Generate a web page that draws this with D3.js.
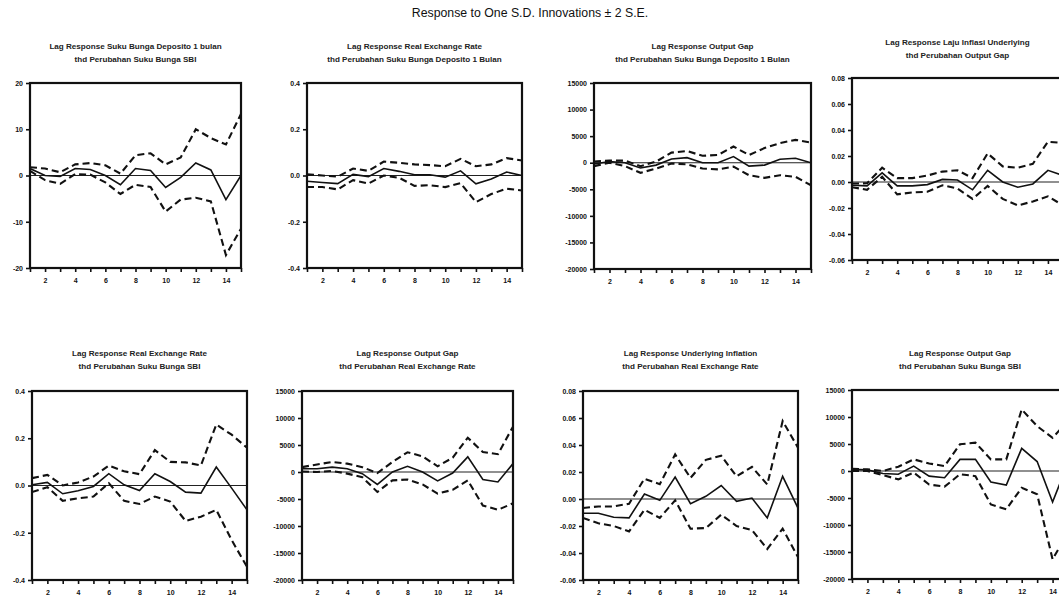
<!DOCTYPE html>
<html><head><meta charset="utf-8">
<script src="https://cdn.jsdelivr.net/npm/d3@7"></script>
<style>body{margin:0;background:#fff} svg{display:block}</style>
</head><body>
<svg id="c" width="1059" height="602"></svg>
<script>
// ---------------- DATA ----------------
const mainTitle = "Response to One S.D. Innovations \u00B1 2 S.E.";
const lags = [1,2,3,4,5,6,7,8,9,10,11,12,13,14,15];
const xTickLabels = [2,4,6,8,10,12,14];

const titles = [
  ["Lag Response Suku Bunga Deposito 1 bulan", "thd Perubahan Suku Bunga SBI"],
  ["Lag Response Real Exchange Rate", "thd Perubahan Suku Bunga Deposito 1 Bulan"],
  ["Lag Response Output Gap", "thd Perubahan Suku Bunga Deposito 1 Bulan"],
  ["Lag Response Laju Inflasi Underlying", "thd Perubahan Output Gap"],
  ["Lag Response Real Exchange Rate", "thd Perubahan Suku Bunga SBI"],
  ["Lag Response Output Gap", "thd Perubahan Real Exchange Rate"],
  ["Lag Response Underlying Inflation", "thd Perubahan Real Exchange Rate"],
  ["Lag Response Output Gap", "thd Perubahan Suku Bunga SBI"]
];

const yTicksA = [-20,-10,0,10,20];
const yLabelsA = ["-20","-10","0","10","20"];
const yTicksB = [-0.4,-0.2,0,0.2,0.4];
const yLabelsB = ["-0.4","-0.2","0.0","0.2","0.4"];
const yTicksC = [-20000,-15000,-10000,-5000,0,5000,10000,15000];
const yLabelsC = ["-20000","-15000","-10000","-5000","0","5000","10000","15000"];
const yTicksD = [-0.06,-0.04,-0.02,0,0.02,0.04,0.06,0.08];
const yLabelsD = ["-0.06","-0.04","-0.02","0.00","0.02","0.04","0.06","0.08"];

// Panel 1
const p1Resp  = [1.5,0,-0.2,1.5,1.3,0,-2,1.5,1.1,-2.6,-0.4,2.7,1.2,-5.2,0];
const p1Upper = [1.8,1.5,0.7,2.4,2.7,2.2,0.4,4.4,4.8,2.4,3.9,10,8.1,6.7,13.3];
const p1Lower = [1.0,-1,-1.8,0.3,0.2,-1.5,-4,-2,-2.5,-7.8,-5.2,-4.8,-5.6,-17.2,-11.5];
// Panel 2
const p2Resp  = [-0.025,-0.03,-0.035,0.005,-0.005,0.03,0.018,0.003,0.003,-0.007,0.02,-0.036,-0.015,0.015,0];
const p2Upper = [0.005,0,-0.005,0.03,0.02,0.06,0.055,0.048,0.045,0.04,0.072,0.04,0.048,0.075,0.065];
const p2Lower = [-0.05,-0.05,-0.06,-0.02,-0.035,0,-0.01,-0.045,-0.042,-0.05,-0.033,-0.115,-0.08,-0.057,-0.065];
// Panel 3
const p3Resp  = [-250,200,0,-1000,-450,700,950,0,0,1150,-650,-450,650,850,0];
const p3Upper = [200,400,400,-650,200,1900,2200,1300,1450,3050,1450,2750,3700,4300,3800];
const p3Lower = [-650,0,-650,-1900,-1100,-150,-300,-1100,-1250,-750,-2350,-2850,-2350,-2650,-4250];
// Panel 4
const p4Resp  = [-0.0025,-0.003,0.007,-0.003,-0.003,-0.002,0.002,0.0015,-0.006,0.009,0,-0.004,-0.0015,0.009,0.005];
const p4Upper = [-0.0012,-0.001,0.011,0.003,0.003,0.005,0.008,0.009,0.003,0.022,0.012,0.011,0.014,0.031,0.03];
const p4Lower = [-0.004,-0.006,0.004,-0.0095,-0.008,-0.0075,-0.0025,-0.005,-0.013,-0.003,-0.013,-0.018,-0.015,-0.011,-0.018];
// Panel 5
const p5Resp  = [0.003,0.013,-0.035,-0.022,-0.004,0.05,0.003,-0.021,0.05,0.017,-0.028,-0.032,0.078,-0.011,-0.103];
const p5Upper = [0.031,0.045,0,0.013,0.038,0.084,0.06,0.048,0.15,0.1,0.098,0.085,0.258,0.215,0.16];
const p5Lower = [-0.028,-0.007,-0.065,-0.054,-0.047,0.01,-0.065,-0.078,-0.047,-0.068,-0.15,-0.132,-0.103,-0.231,-0.344];
// Panel 6
const p6Resp  = [600,600,900,600,-300,-2300,0,1050,0,-1650,-200,2800,-1400,-1850,1550];
const p6Upper = [900,1400,1850,1550,900,-200,1850,3650,2900,1050,2650,6350,3700,3300,8400];
const p6Lower = [100,0,200,-300,-950,-3700,-1550,-1400,-2300,-4000,-3300,-1550,-6200,-7000,-5800];
// Panel 7
const p7Resp  = [-0.0105,-0.0105,-0.0135,-0.014,0.0037,-0.001,0.0163,-0.0035,0.002,0.01,-0.0017,0.0007,-0.014,0.0168,-0.0067];
const p7Upper = [-0.0067,-0.0055,-0.0055,-0.0035,0.015,0.011,0.033,0.0156,0.029,0.032,0.0168,0.0238,0.0107,0.0577,0.038];
const p7Lower = [-0.014,-0.018,-0.02,-0.024,-0.008,-0.014,-0.001,-0.022,-0.0215,-0.0116,-0.02,-0.023,-0.037,-0.022,-0.043];
// Panel 8
const p8Resp  = [300,200,-450,-600,900,-950,-1250,2150,2150,-2050,-2600,4200,1750,-5750,1500];
const p8Upper = [400,300,0,800,2150,1400,900,4950,5250,2150,2150,11400,8300,6150,9300];
const p8Lower = [0,0,-750,-1550,-300,-2500,-2900,-600,-950,-6200,-7100,-3100,-4300,-16350,-11400];

// ---------------- LAYOUT ----------------
const panels = [
  {t:titles[0], r:p1Resp, u:p1Upper, l:p1Lower, yt:yTicksA, yl:yLabelsA, dom:[-20,20],       box:[30,241,83,268],  ty:46},
  {t:titles[1], r:p2Resp, u:p2Upper, l:p2Lower, yt:yTicksB, yl:yLabelsB, dom:[-0.4,0.4],     box:[307,522,83,268], ty:46},
  {t:titles[2], r:p3Resp, u:p3Upper, l:p3Lower, yt:yTicksC, yl:yLabelsC, dom:[-20000,15000], box:[594,811,83,269], ty:46},
  {t:titles[3], r:p4Resp, u:p4Upper, l:p4Lower, yt:yTicksD, yl:yLabelsD, dom:[-0.06,0.08],   box:[852,1063,78,260],ty:42},
  {t:titles[4], r:p5Resp, u:p5Upper, l:p5Lower, yt:yTicksB, yl:yLabelsB, dom:[-0.4,0.4],     box:[32,247,391,580], ty:353},
  {t:titles[5], r:p6Resp, u:p6Upper, l:p6Lower, yt:yTicksC, yl:yLabelsC, dom:[-20000,15000], box:[302,513,391,580],ty:353},
  {t:titles[6], r:p7Resp, u:p7Upper, l:p7Lower, yt:yTicksD, yl:yLabelsD, dom:[-0.06,0.08],   box:[583,798,391,580],ty:353},
  {t:titles[7], r:p8Resp, u:p8Upper, l:p8Lower, yt:yTicksC, yl:yLabelsC, dom:[-20000,15000], box:[852,1068,390,579],ty:353}
];

const svg = d3.select("#c");
const FONT = "Liberation Sans, Arial, sans-serif";

svg.append("text").attr("x",530).attr("y",17).attr("text-anchor","middle")
  .attr("font-family",FONT).attr("font-size",12.3).attr("fill","#111").text(mainTitle);

panels.forEach((p,k)=>{
  const [x0,x1,y0,y1] = p.box;
  const x = d3.scaleLinear().domain([1,15]).range([x0,x1]);
  const y = d3.scaleLinear().domain(p.dom).range([y1,y0]);
  const g = svg.append("g");
  const cx = (x0+x1)/2;
  g.selectAll("text.tt").data(p.t).join("text")
    .attr("x",cx).attr("y",(d,i)=>p.ty+3+i*12.5).attr("text-anchor","middle")
    .attr("font-family",FONT).attr("font-size",8.1).attr("font-weight","bold")
    .attr("fill","#222").text(d=>d);

  const clipId = "clip"+k;
  svg.append("clipPath").attr("id",clipId).append("rect")
    .attr("x",x0).attr("y",y0).attr("width",x1-x0).attr("height",y1-y0);

  // zero line
  g.append("line").attr("x1",x0).attr("x2",x1).attr("y1",y(0)).attr("y2",y(0))
    .attr("stroke","#222").attr("stroke-width",1.1);

  const line = d3.line().x((d,i)=>x(lags[i])).y(d=>y(d));
  const lg = g.append("g").attr("clip-path",`url(#${clipId})`);
  lg.append("path").attr("d",line(p.u)).attr("fill","none").attr("stroke","#111")
    .attr("stroke-width",2.1).attr("stroke-dasharray","7,4");
  lg.append("path").attr("d",line(p.l)).attr("fill","none").attr("stroke","#111")
    .attr("stroke-width",2.1).attr("stroke-dasharray","7,4");
  lg.append("path").attr("d",line(p.r)).attr("fill","none").attr("stroke","#111")
    .attr("stroke-width",1.6);

  // axes
  const xAxis = d3.axisBottom(x).tickValues(lags).tickSize(4)
    .tickFormat(d=> xTickLabels.includes(d) ? String(d) : "");
  const xa = g.append("g").attr("transform",`translate(0,${y1})`).call(xAxis);
  const yAxis = d3.axisLeft(y).tickValues(p.yt).tickSize(4)
    .tickFormat((d,i)=>p.yl[i]);
  const ya = g.append("g").attr("transform",`translate(${x0},0)`).call(yAxis);
  [xa,ya].forEach(a=>{
    a.select(".domain").remove();
    a.selectAll(".tick line").attr("stroke","#111").attr("stroke-width",1.6);
    a.selectAll("text").attr("font-family",FONT).attr("font-size",7)
      .attr("font-weight","bold").attr("fill","#111");
  });
  xa.selectAll("text").attr("dy","1.2em");

  g.append("rect").attr("x",x0).attr("y",y0).attr("width",x1-x0).attr("height",y1-y0)
    .attr("fill","none").attr("stroke","#111").attr("stroke-width",2.2);
});
</script>
</body></html>
